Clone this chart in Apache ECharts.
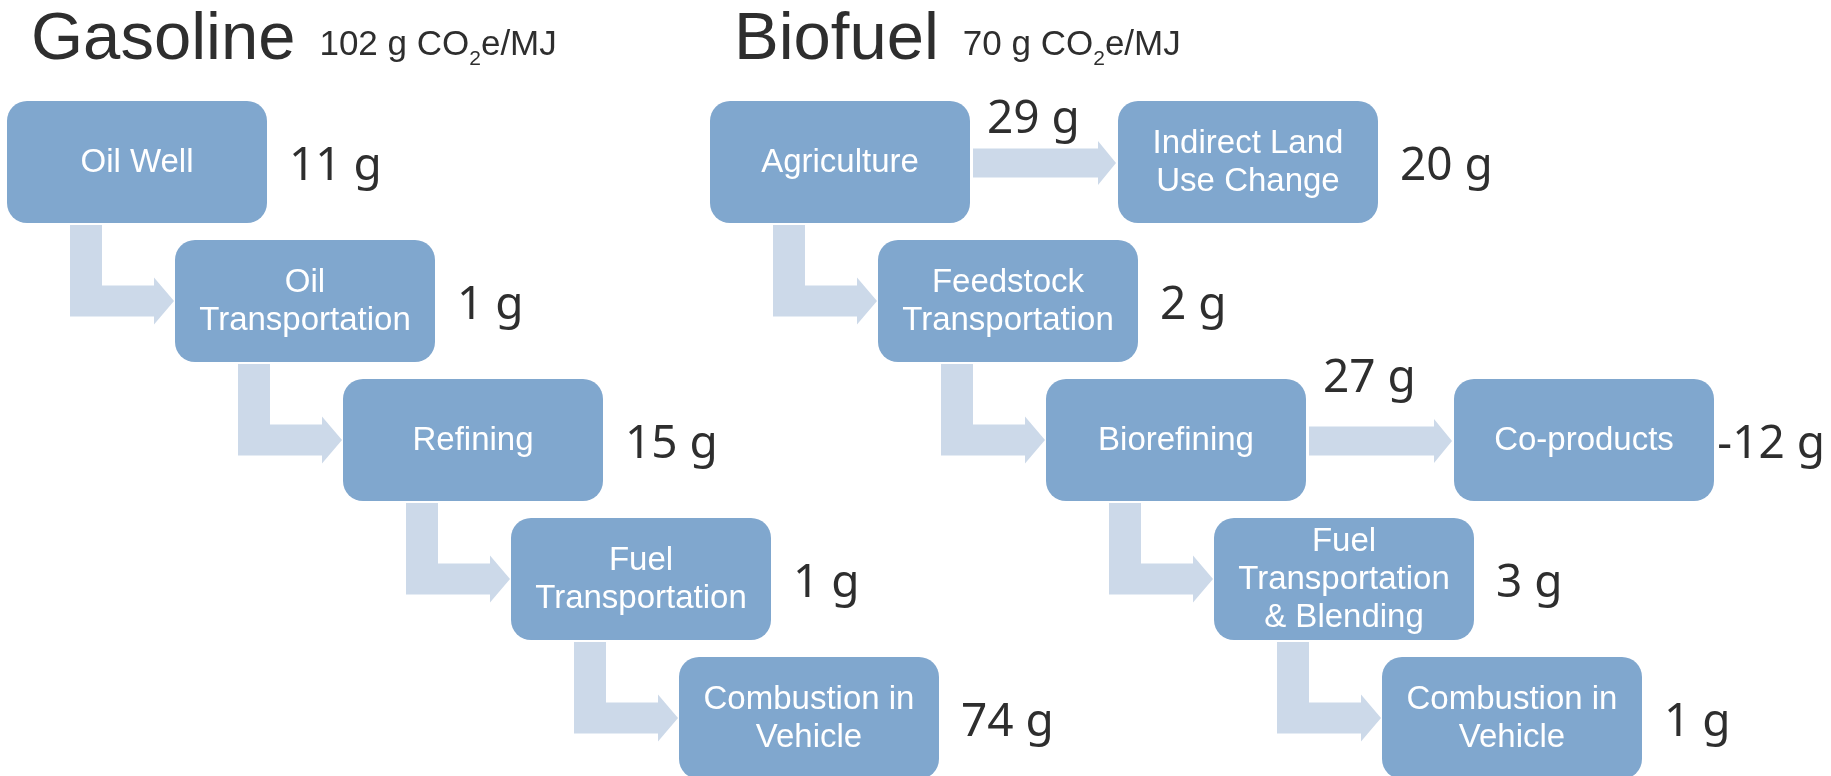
<!DOCTYPE html>
<html><head><meta charset="utf-8">
<script src="https://cdn.jsdelivr.net/npm/echarts@6.0.0/dist/echarts.min.js"></script>
<style>html,body{margin:0;padding:0;background:#fff}#c{width:1831px;height:776px}</style>
</head><body><div id="c"></div>
<script>
// ---------------- data ----------------
const panelTitles = ['Gasoline', 'Biofuel'];
const gasolineStages = ['Oil Well', 'Oil\nTransportation', 'Refining', 'Fuel\nTransportation', 'Combustion in\nVehicle'];
const gasolineGrams = [11, 1, 15, 1, 74];
const biofuelStages = ['Agriculture', 'Feedstock\nTransportation', 'Biorefining', 'Fuel\nTransportation\n& Blending', 'Combustion in\nVehicle'];
const biofuelGrams = [29, 2, 27, 3, 1];
const biofuelBranchFrom = [0, 2];
const biofuelBranches = ['Indirect Land\nUse Change', 'Co-products'];
const biofuelBranchGrams = [20, -12];
const unitParts = ['g CO', '2', 'e/MJ'];

// ---------------- layout ----------------
const W = 1831, H = 776;
const BOX_W = 260, BOX_H = 122, COL_STEP = 168, ROW_STEP = 139, ROW0 = 101;
const PANEL_X = [7, 710];
const BRANCH_DX = 408;
const BOX_FILL = '#80A7CE', ARROW_FILL = '#CCD9E9', DARK = '#2E2E2E';
const BOX_FONT = '33px "Liberation Sans", Arial, sans-serif';
const VAL_FONT = '46px "Noto Sans", sans-serif';
const TITLE_FONT = '67px "Liberation Sans", Arial, sans-serif';
const SUB_FONT = '35px "Liberation Sans", Arial, sans-serif';
const SUBSCRIPT_FONT = '21px "Liberation Sans", Arial, sans-serif';

const mctx = document.createElement('canvas').getContext('2d');
function textW(t, font) { mctx.font = font; return mctx.measureText(t).width; }
const fmt = v => v + ' g';

const panels = [
  {title: panelTitles[0], stages: gasolineStages, grams: gasolineGrams, branchFrom: [], branches: [], branchGrams: []},
  {title: panelTitles[1], stages: biofuelStages, grams: biofuelGrams, branchFrom: biofuelBranchFrom, branches: biofuelBranches, branchGrams: biofuelBranchGrams}
];

const boxes = [], arrows = [], labels = [], titles = [];
panels.forEach((p, pi) => {
  const x0 = PANEL_X[pi];
  const main = p.stages.map((name, i) => ({name, x: x0 + i * COL_STEP, y: ROW0 + i * ROW_STEP}));
  main.forEach((b, i) => { boxes.push(b); if (i > 0) arrows.push({type: 'elbow', from: main[i - 1], to: b}); });
  const hasBranch = new Set(p.branchFrom);
  p.branchFrom.forEach((src, k) => {
    const s = main[src];
    const b = {name: p.branches[k], x: s.x + BRANCH_DX, y: s.y};
    boxes.push(b);
    arrows.push({type: 'straight', from: s, to: b});
    labels.push({text: fmt(p.branchGrams[k]), box: b, mode: 'right'});
  });
  main.forEach((b, i) => labels.push({text: fmt(p.grams[i]), box: b, mode: hasBranch.has(i) ? 'above' : 'right'}));
  const total = p.grams.reduce((a, v) => a + v, 0) + p.branchGrams.reduce((a, v) => a + v, 0);
  titles.push({title: p.title, total, x: x0 + 24});
});

// ---------------- render ----------------
function boxRender(params, api) {
  const b = boxes[params.dataIndex];
  const p0 = api.coord([b.x, b.y]), p1 = api.coord([b.x + BOX_W, b.y + BOX_H]);
  return {type: 'group', children: [
    {type: 'rect', shape: {x: p0[0], y: p0[1], width: p1[0] - p0[0], height: p1[1] - p0[1], r: 20}, style: {fill: BOX_FILL}},
    {type: 'text', x: (p0[0] + p1[0]) / 2, y: (p0[1] + p1[1]) / 2 + 1,
     style: {text: b.name, fill: '#fff', font: BOX_FONT, align: 'center', verticalAlign: 'middle', lineHeight: 38}}
  ]};
}

function arrowRender(params, api) {
  const a = arrows[params.dataIndex];
  const s = a.from, t = a.to;
  let pts;
  if (a.type === 'elbow') {
    const L = s.x, B = s.y + BOX_H, TL = t.x, TC = t.y + BOX_H / 2;
    const sx0 = L + 63, sx1 = L + 95, top = B + 2, sh = 15.5, hh = 23.5, hb = TL - 21, tip = TL - 1;
    pts = [[sx0, top], [sx1, top], [sx1, TC - sh], [hb, TC - sh], [hb, TC - hh], [tip, TC], [hb, TC + hh], [hb, TC + sh], [sx0, TC + sh]];
  } else {
    const R = s.x + BOX_W, C = s.y + BOX_H / 2 + 1, TL = t.x;
    const sh = 14.5, hh = 22, hb = TL - 20, tip = TL - 2, x0 = R + 3;
    pts = [[x0, C - sh], [hb, C - sh], [hb, C - hh], [tip, C], [hb, C + hh], [hb, C + sh], [x0, C + sh]];
  }
  return {type: 'polygon', shape: {points: pts.map(p => api.coord(p))}, style: {fill: ARROW_FILL}};
}

function labelRender(params, api) {
  const l = labels[params.dataIndex];
  const b = l.box;
  let x, y;
  if (l.mode === 'above') {
    // sits above the side arrow, kept clear of the panel title
    x = b.x + BOX_W + 17; y = Math.max(b.y + BOX_H / 2 - 61, 120);
  } else {
    const w = textW(l.text, VAL_FONT);
    x = Math.min(b.x + BOX_W + 22, W - w - 6); y = b.y + BOX_H / 2 + 5;
  }
  const p = api.coord([x, y]);
  return {type: 'text', x: p[0], y: p[1], style: {text: l.text, fill: DARK, font: VAL_FONT, align: 'left', verticalAlign: 'middle'}};
}

function titleRender(params, api) {
  const t = titles[params.dataIndex];
  const p = api.coord([t.x, 41]);
  const tw = textW(t.title, TITLE_FONT);
  const sx = p[0] + tw + 24;
  const part0 = t.total + ' ' + unitParts[0];
  const w0 = textW(part0, SUB_FONT);
  const w1 = textW(unitParts[1], SUBSCRIPT_FONT);
  const sy = api.coord([0, 45])[1];
  const subY = api.coord([0, 59])[1];
  return {type: 'group', children: [
    {type: 'text', x: p[0], y: p[1], style: {text: t.title, fill: DARK, font: TITLE_FONT, align: 'left', verticalAlign: 'middle'}},
    {type: 'text', x: sx, y: sy, style: {text: part0, fill: DARK, font: SUB_FONT, align: 'left', verticalAlign: 'middle'}},
    {type: 'text', x: sx + w0, y: subY, style: {text: unitParts[1], fill: DARK, font: SUBSCRIPT_FONT, align: 'left', verticalAlign: 'middle'}},
    {type: 'text', x: sx + w0 + w1, y: sy, style: {text: unitParts[2], fill: DARK, font: SUB_FONT, align: 'left', verticalAlign: 'middle'}}
  ]};
}

const chart = echarts.init(document.getElementById('c'), null, {renderer: 'canvas'});
chart.setOption({
  animation: false,
  backgroundColor: '#fff',
  grid: {left: 0, right: 0, top: 0, bottom: 0},
  xAxis: {type: 'value', min: 0, max: W, show: false},
  yAxis: {type: 'value', min: 0, max: H, inverse: true, show: false},
  series: [
    {type: 'custom', name: 'arrows', coordinateSystem: 'cartesian2d', clip: false, renderItem: arrowRender, data: arrows.map(a => [a.from.x, a.from.y])},
    {type: 'custom', name: 'boxes', coordinateSystem: 'cartesian2d', clip: false, renderItem: boxRender, data: boxes.map(b => [b.x, b.y])},
    {type: 'custom', name: 'values', coordinateSystem: 'cartesian2d', clip: false, renderItem: labelRender, data: labels.map(l => [l.box.x, l.box.y])},
    {type: 'custom', name: 'titles', coordinateSystem: 'cartesian2d', clip: false, renderItem: titleRender, data: titles.map(t => [t.x, 41])}
  ]
});
</script>
</body></html>
